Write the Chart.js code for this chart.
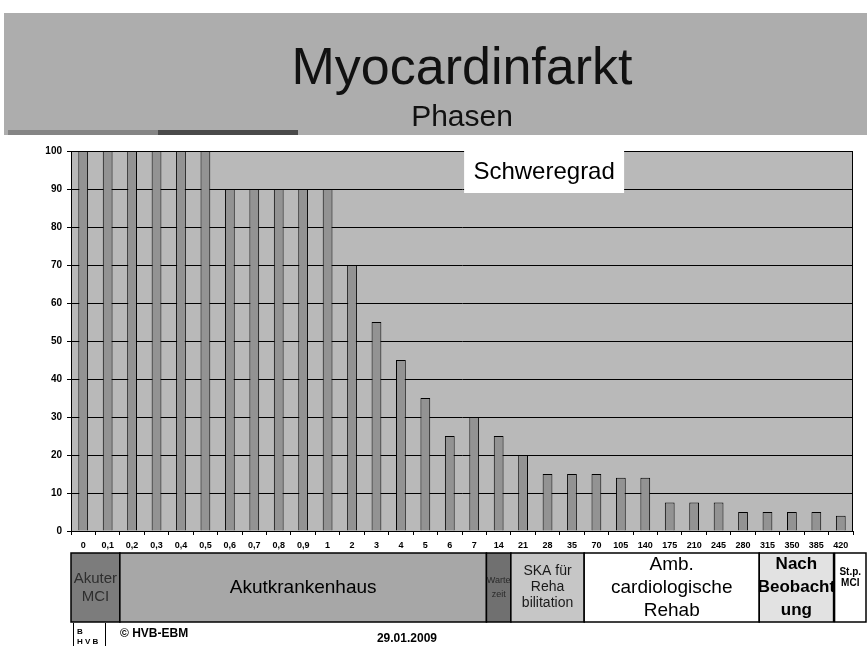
<!DOCTYPE html>
<html><head><meta charset="utf-8">
<script src="https://cdn.jsdelivr.net/npm/chart.js@4.4.1/dist/chart.umd.min.js"></script>
<style>html,body{margin:0;padding:0;background:#fff;overflow:hidden}</style>
</head><body>
<canvas id="c" width="867" height="646"></canvas>
<script>
// ---- data ----
const categories = ['0','0,1','0,2','0,3','0,4','0,5','0,6','0,7','0,8','0,9','1','2','3','4','5','6','7','14','21','28','35','70','105','140','175','210','245','280','315','350','385','420'];
const severity = [100,100,100,100,100,100,90,90,90,90,90,70,55,45,35,25,30,25,20,15,15,15,14,14,7.5,7.5,7.5,5,5,5,5,4];
const phaseNames = [['Akuter','MCI'],['Akutkrankenhaus'],['Warte','zeit'],['SKA für','Reha','bilitation'],['Amb.','cardiologische','Rehab'],['Nach','Beobacht','ung'],['St.p.','MCI']];
const phaseFirst = [0,2,17,18,21,28,31];
const phaseLast  = [1,16,17,20,27,30,31];
const titleText = 'Myocardinfarkt';
const subtitleText = 'Phasen';
const seriesName = 'Schweregrad';
const footerLeft = '© HVB-EBM';
const footerDate = '29.01.2009';

// ---- styles ----
const FONT = "'Liberation Sans', Arial, sans-serif";
const phaseStyle = [
  {fill:'#7c7c7c', color:'#2e2e2e', font:'15px', lh:18},
  {fill:'#a7a7a7', color:'#000', font:'19px', lh:22},
  {fill:'#707070', color:'#2a2a2a', font:'9px', lh:14},
  {fill:'#c6c6c6', color:'#1a1a1a', font:'14px', lh:16},
  {fill:'#ffffff', color:'#000', font:'19px', lh:23},
  {fill:'#e2e2e2', color:'#000', font:'bold 17px', lh:23},
  {fill:'#ffffff', color:'#000', font:'bold 10px', lh:11}
];

const decor = {
  id:'decor',
  beforeDraw(chart){
    const ctx = chart.ctx, a = chart.chartArea;
    ctx.save();
    ctx.fillStyle = '#fff';
    ctx.fillRect(0,0,chart.width,chart.height);
    // banner
    ctx.fillStyle = '#adadad';
    ctx.fillRect(4,13,863,122);
    ctx.fillStyle = '#858585';
    ctx.fillRect(8,130,150,5);
    ctx.fillStyle = '#4a4a4a';
    ctx.fillRect(158,130,140,5);
    // plot background
    ctx.fillStyle = '#b9b9b9';
    ctx.fillRect(a.left, a.top, a.right-a.left, a.bottom-a.top);
    ctx.restore();
  },
  afterDatasetsDraw(chart){
    const ctx = chart.ctx, a = chart.chartArea;
    ctx.save();
    ctx.strokeStyle = '#000';
    ctx.lineWidth = 1;
    ctx.strokeRect(a.left+0.5, a.top+0.5, a.right-a.left-1, a.bottom-a.top);
    // series label box
    const cx = a.left + (a.right-a.left)*0.605;
    ctx.fillStyle = '#fff';
    ctx.fillRect(cx-80, a.top, 160, 42);
    ctx.fillStyle = '#000';
    ctx.font = '24px ' + FONT;
    ctx.textAlign = 'center';
    ctx.textBaseline = 'middle';
    ctx.fillText(seriesName, cx, a.top+21);
    ctx.restore();
  },
  afterDraw(chart){
    const ctx = chart.ctx, x = chart.scales.x;
    const half = (x.getPixelForValue(1) - x.getPixelForValue(0))/2;
    const top = 553, bottom = 622;
    ctx.save();
    for (let i=0;i<phaseNames.length;i++){
      let l = x.getPixelForValue(phaseFirst[i]) - half;
      let r = x.getPixelForValue(phaseLast[i]) + half;
      if (i === phaseNames.length-1){ l += 6; r = chart.width - 1; }
      if (i === phaseNames.length-2){ r += 5; l += 4; }
      if (i === phaseNames.length-3){ r += 4; }
      const st = phaseStyle[i];
      ctx.fillStyle = st.fill;
      ctx.fillRect(l, top, r-l, bottom-top);
      ctx.strokeStyle = '#000';
      ctx.lineWidth = 1.5;
      ctx.strokeRect(l, top, r-l, bottom-top);
      ctx.fillStyle = st.color;
      ctx.font = st.font + ' ' + FONT;
      ctx.textAlign = 'center';
      ctx.textBaseline = 'middle';
      const lines = phaseNames[i];
      const cy = (top+bottom)/2 + (i===6 ? -10 : 0);
      const y0 = cy - (lines.length-1)*st.lh/2;
      lines.forEach((t,k)=>ctx.fillText(t, (l+r)/2, y0 + k*st.lh));
    }
    // footer
    ctx.strokeStyle = '#000';
    ctx.lineWidth = 1;
    ctx.beginPath();
    ctx.moveTo(73.5,623); ctx.lineTo(73.5,646);
    ctx.moveTo(105.5,623); ctx.lineTo(105.5,646);
    ctx.stroke();
    ctx.fillStyle = '#000';
    ctx.textAlign = 'left';
    ctx.textBaseline = 'alphabetic';
    ctx.font = 'bold 8px ' + FONT;
    ctx.fillText('B', 77, 634);
    ctx.fillText('H V B', 77, 644);
    ctx.font = 'bold 12px ' + FONT;
    ctx.fillText(footerLeft, 120, 637);
    ctx.textAlign = 'right';
    ctx.fillText(footerDate, 437, 642);
    ctx.restore();
  }
};

new Chart(document.getElementById('c'), {
  type:'bar',
  data:{
    labels: categories,
    datasets:[{
      label: seriesName,
      data: severity,
      backgroundColor:'#939393',
      borderColor:'#000',
      borderWidth:1,
      borderSkipped:'bottom',
      categoryPercentage:1,
      barPercentage:0.4
    }]
  },
  options:{
    responsive:false,
    devicePixelRatio:1,
    animation:false,
    layout:{padding:{top:13,left:0,right:14,bottom:93}},
    plugins:{
      legend:{display:false},
      tooltip:{enabled:false},
      title:{display:true,text:titleText,fullSize:false,color:'#111',
        font:{family:FONT,size:52,weight:'normal',lineHeight:1},padding:{top:31,bottom:0}},
      subtitle:{display:true,text:subtitleText,fullSize:false,color:'#111',
        font:{family:FONT,size:30,weight:'normal',lineHeight:1},padding:{top:6.5,bottom:18.5}}
    },
    scales:{
      x:{
        type:'category',
        offset:true,
        grid:{display:true,drawOnChartArea:false,drawTicks:true,tickLength:4,color:'#000',offset:true},
        border:{display:true,color:'#000',width:1},
        ticks:{color:'#000',font:{family:FONT,size:9,weight:'bold'},maxRotation:0,minRotation:0,autoSkip:false,padding:5},
        afterFit(s){ s.height = 22; }
      },
      y:{
        min:0,max:100,
        ticks:{stepSize:10,color:'#000',font:{family:FONT,size:10,weight:'bold'},padding:5},
        grid:{color:'#000',lineWidth:1,tickLength:4},
        border:{display:true,color:'#000',width:1},
        afterFit(s){ s.width = 71; }
      }
    }
  },
  plugins:[decor]
});
</script>
</body></html>
